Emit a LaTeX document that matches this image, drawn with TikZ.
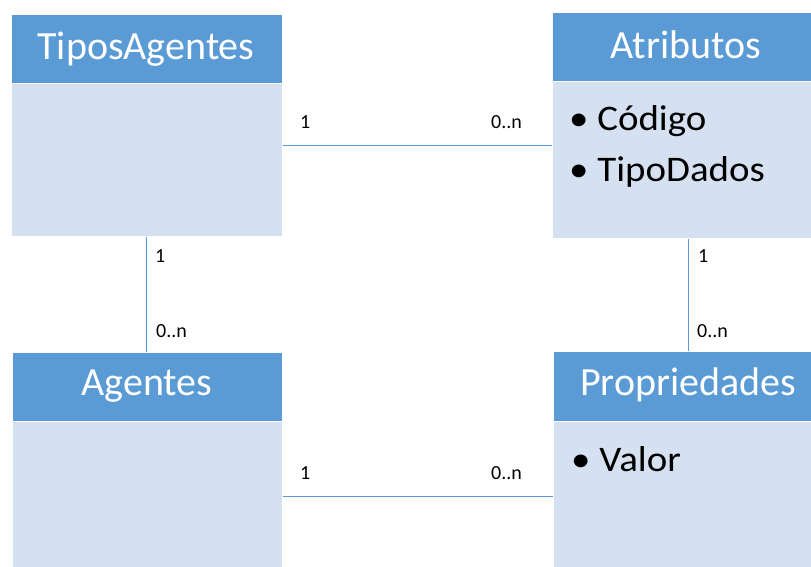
\documentclass[tikz,border=0pt]{standalone}
\usepackage{fontspec}
\setmainfont{Carlito}
\definecolor{hdr}{HTML}{5B9BD5}
\definecolor{bdy}{HTML}{D5E1F1}
\definecolor{lnc}{HTML}{5B9BD5}
\newcommand{\attrtext}[1]{\scalebox{1.08}[1]{#1}}
\begin{document}
\begin{tikzpicture}[x=1pt,y=-1pt,
  hdrbox/.style={fill=hdr,draw=white,line width=0.6pt,anchor=north west,inner sep=0pt,
    text=white,font=\fontsize{40}{48}\selectfont},
  bdybox/.style={fill=bdy,draw=white,line width=0.6pt,anchor=north west,inner sep=0pt},
  hdrtext/.style={text=white,font=\fontsize{40}{48}\selectfont,anchor=base,inner sep=0pt},
  conn/.style={draw=lnc,line width=1pt},
  mult/.style={font=\fontsize{20}{24}\selectfont,anchor=base west,inner sep=0pt},
  attr/.style={font=\fontsize{36}{43}\selectfont,anchor=base west,inner sep=0pt}]
\useasboundingbox (0,0) rectangle (811,567);
\fill[white] (0,0) rectangle (811,567);
% TiposAgentes
\node[bdybox,minimum width=271pt,minimum height=153pt] (tb) at (11,83) {};
\node[hdrbox,minimum width=271pt,minimum height=69pt] (th) at (11,14) {};
\node[hdrtext] (tt) at (146,60) {TiposAgentes};
% Atributos
\node[bdybox,minimum width=259pt,minimum height=157pt] (ab) at (552,81) {};
\node[hdrbox,minimum width=259pt,minimum height=69pt] (ah) at (552,12) {};
\node[hdrtext] (at) at (686,59) {Atributos};
\node[attr] (a1) at (569,131) {\attrtext{• Código}};
\node[attr] (a2) at (569,181) {\attrtext{• TipoDados}};
% Agentes
\node[bdybox,minimum width=270pt,minimum height=146pt] (gb) at (12,421) {};
\node[hdrbox,minimum width=270pt,minimum height=69pt] (gh) at (12,352) {};
\node[hdrtext] (gt) at (147,395) {Agentes};
% Propriedades
\node[bdybox,minimum width=258pt,minimum height=146pt] (pb) at (553,421) {};
\node[hdrbox,minimum width=258pt,minimum height=70pt] (ph) at (553,351) {};
\node[hdrtext] (pt) at (688,395) {Propriedades};
\node[attr] (p1) at (571,471) {\attrtext{• Valor}};
% connectors
\coordinate (c1a) at (282,146);
\draw[conn] (tb.east |- c1a) -- (ab.west |- c1a);
\coordinate (c2a) at (282,496);
\draw[conn] (gb.east |- c2a) -- (pb.west |- c2a);
\coordinate (c3) at (146,0);
\draw[conn] (tb.south -| c3) -- (gh.north -| c3);
\coordinate (c4) at (688,0);
\draw[conn] (ab.south -| c4) -- (ph.north -| c4);
% multiplicities
\node[mult] (m1) at (300,129) {1};
\node[mult] (m2) at (491,129) {0..n};
\node[mult] (m3) at (300,479) {1};
\node[mult] (m4) at (491,479) {0..n};
\node[mult] (m5) at (155,262) {1};
\node[mult] (m6) at (156,337) {0..n};
\node[mult] (m7) at (698,262) {1};
\node[mult] (m8) at (697,337) {0..n};
\end{tikzpicture}
\end{document}
